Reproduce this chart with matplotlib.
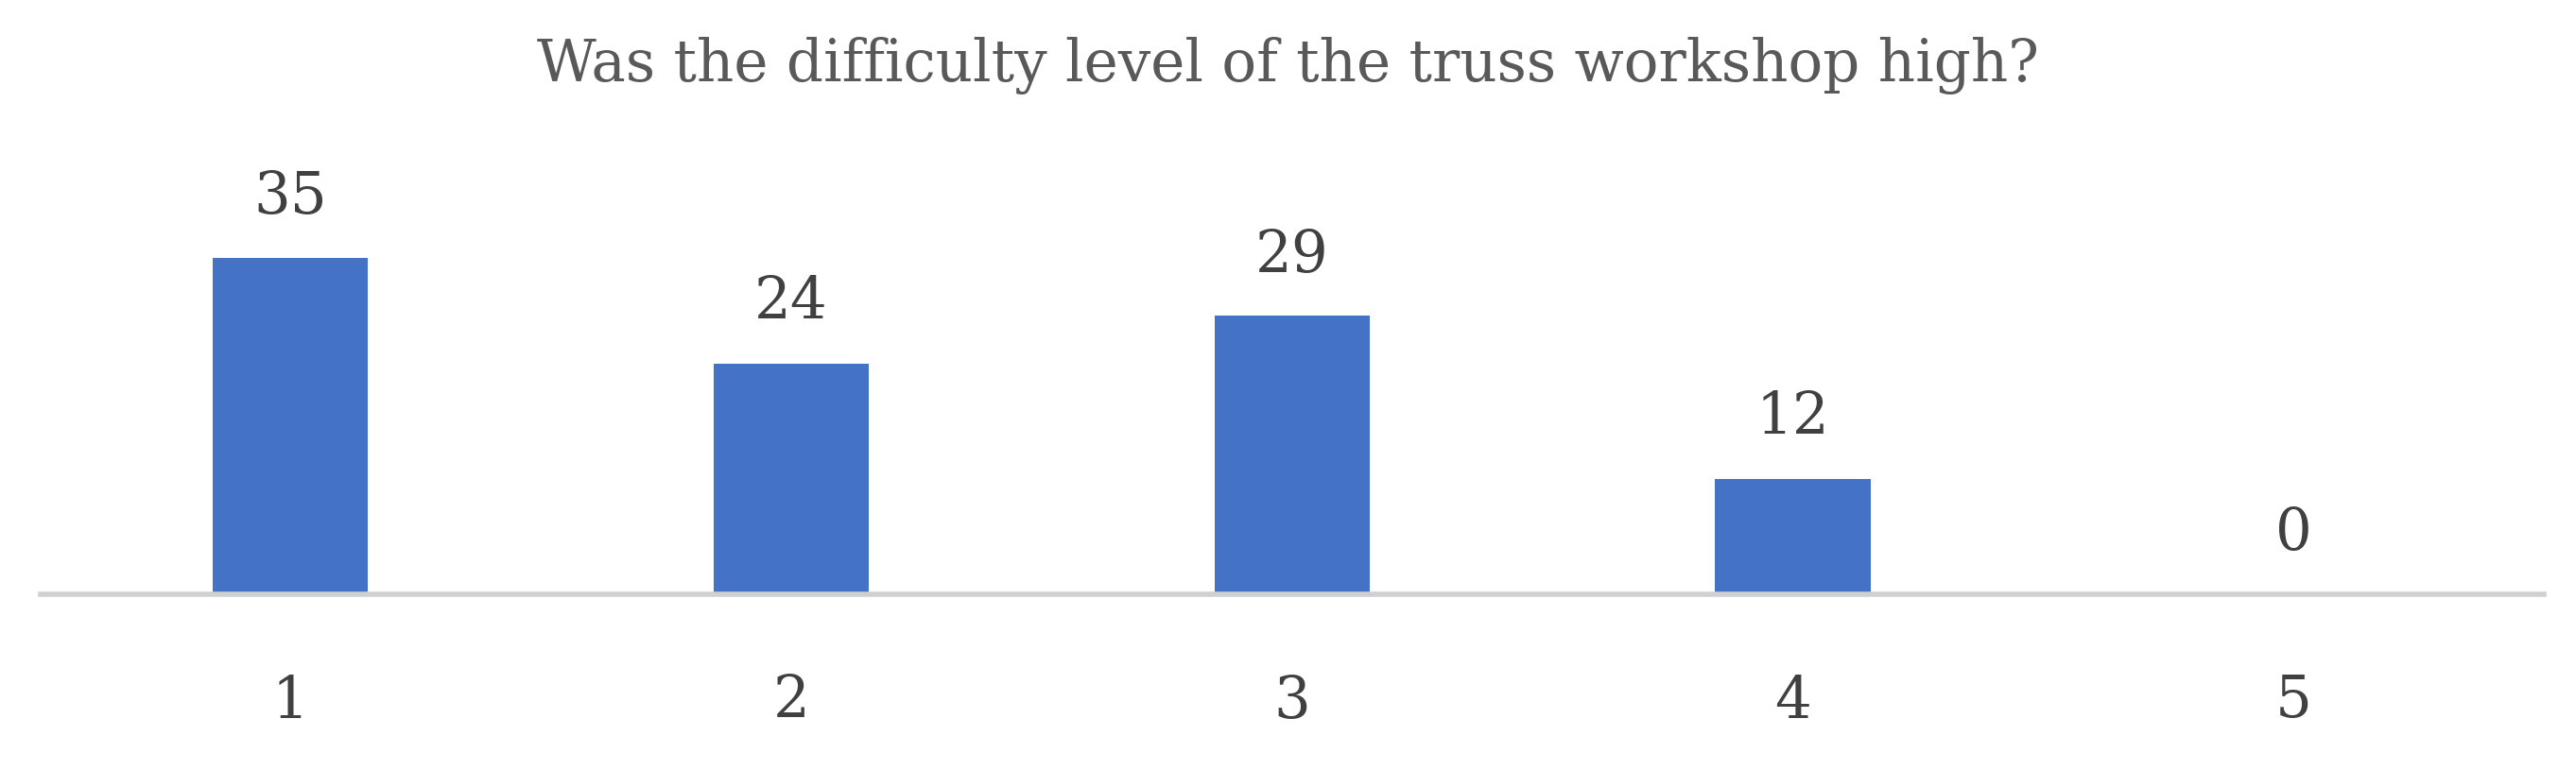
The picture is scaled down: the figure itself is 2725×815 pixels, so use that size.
import matplotlib
matplotlib.use("Agg")
import matplotlib.pyplot as plt

categories = ["1", "2", "3", "4", "5"]
values = [35, 24, 29, 12, 0]
title = "Was the difficulty level of the truss workshop high?"

plt.rcParams['font.family'] = ['DejaVu Serif']
fig = plt.figure(figsize=(27.25, 8.15), dpi=100)
ax = fig.add_axes([0.0156, 0.228, 0.972, 0.499])
x = range(len(categories))
ax.bar(x, values, width=0.31, color="#4472C4", zorder=2)
ax.set_xlim(-0.5, 4.5)
ax.set_ylim(0, 40)
for xi, v in zip(x, values):
    ax.annotate(str(v), (xi, v), xytext=(0, 25), textcoords="offset points",
                ha="center", va="bottom", fontsize=44, color="#404040")
for s in ["top", "right", "left"]:
    ax.spines[s].set_visible(False)
ax.spines["bottom"].set_color("#d0d0d0")
ax.spines["bottom"].set_linewidth(4)
ax.set_yticks([])
ax.set_xticks(list(x))
ax.set_xticklabels(categories, fontsize=44, color="#404040")
ax.tick_params(axis="x", length=0, pad=60)
fig.text(0.5, 0.915, title, ha="center", va="center", fontsize=44, color="#595959")
fig.savefig("out.png")
